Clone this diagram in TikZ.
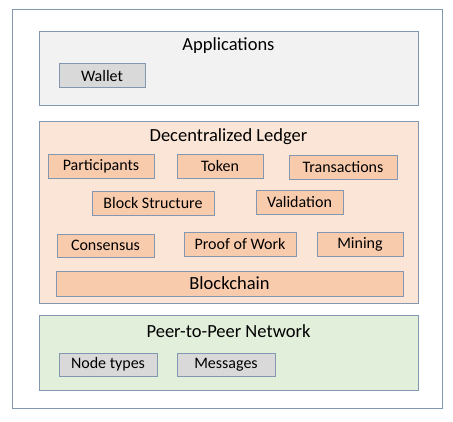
\documentclass[tikz,border=0pt]{standalone}
\usepackage{fontspec}
\setmainfont{Carlito}
\definecolor{lineblue}{HTML}{8497B0}
\definecolor{appfill}{HTML}{F2F2F2}
\definecolor{appbox}{HTML}{D9D9D9}
\definecolor{ledgerfill}{HTML}{FBE5D6}
\definecolor{ledgerbox}{HTML}{F8CBAD}
\definecolor{netfill}{HTML}{E2EFDA}
\tikzset{
  layer/.style={draw=lineblue, line width=1pt, inner sep=0pt, minimum width=379pt},
  title/.style={font=\fontsize{18.5}{20}\selectfont},
  item/.style={draw=lineblue, line width=1pt, inner sep=0pt, minimum height=24pt, font=\fontsize{16}{18}\selectfont},
}
\begin{document}
\begin{tikzpicture}[x=1pt, y=-1pt]
  \useasboundingbox (0,0) rectangle (453,421);
  \draw[lineblue, line width=1pt] (12,9) rectangle (442,408);

  % applications
  \node[layer, fill=appfill, minimum height=74pt] (apps) at (228.5,68) {};
  \node[title] (appstitle) at (228.5,46) {Applications};
  \node[item, fill=appbox, minimum width=86pt] (wallet) at (102,75.5) {Wallet};

  % ledger
  \node[layer, fill=ledgerfill, minimum height=182pt] (ledger) at (228.5,212) {};
  \node[title] (ledgertitle) at (228.5,137) {Decentralized Ledger};
  \node[item, fill=ledgerbox, minimum width=106pt] (participants) at (101,166) {Participants};
  \node[item, fill=ledgerbox, minimum width=86pt] (token) at (220,166) {Token};
  \node[item, fill=ledgerbox, minimum width=108pt] (transactions) at (343,167) {Transactions};
  \node[item, fill=ledgerbox, minimum width=122pt] (blockstruct) at (153,203) {Block Structure};
  \node[item, fill=ledgerbox, minimum width=87pt] (validation) at (299.5,202) {Validation};
  \node[item, fill=ledgerbox, minimum width=97pt, minimum height=23pt] (consensus) at (105.5,245.5) {Consensus};
  \node[item, fill=ledgerbox, minimum width=112pt] (pow) at (240,244) {Proof of Work};
  \node[item, fill=ledgerbox, minimum width=86pt] (mining) at (360,244) {Mining};
  \node[item, fill=ledgerbox, minimum width=347pt, minimum height=25pt, font=\fontsize{18.5}{20}\selectfont] (blockchain) at (229.5,283.5) {Blockchain};

  % network
  \node[layer, fill=netfill, minimum height=75pt] (net) at (228.5,352.5) {};
  \node[title] (nettitle) at (228.5,331) {Peer-to-Peer Network};
  \node[item, fill=appbox, minimum width=98pt, minimum height=23pt] (nodetypes) at (108,364.5) {Node types};
  \node[item, fill=appbox, minimum width=98pt, minimum height=23pt] (messages) at (226,364.5) {Messages};
\end{tikzpicture}
\end{document}
